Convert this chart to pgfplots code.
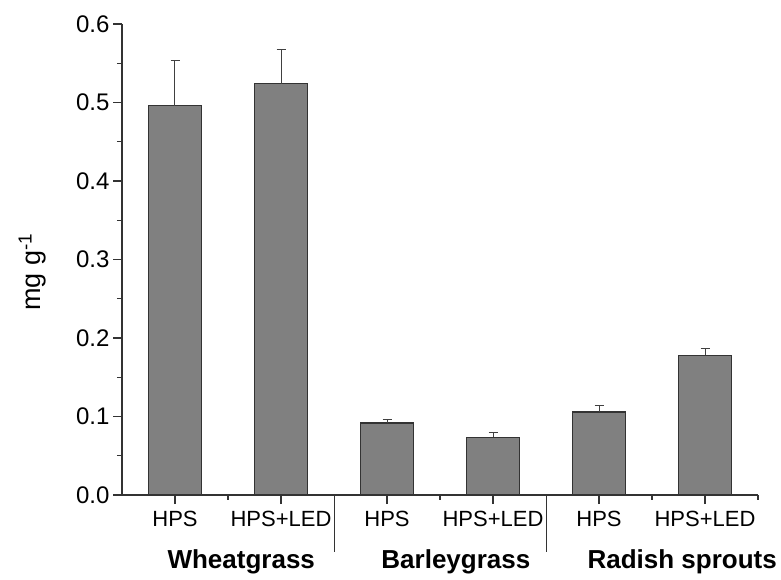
\documentclass[border=0pt]{standalone}
\usepackage{fontspec}
\setmainfont{Liberation Sans}
\usepackage{pgfplots}
\pgfplotsset{compat=1.18}
\begin{document}
\begin{tikzpicture}
\begin{axis}[
  scale only axis, width=636pt, height=471pt,
  xmin=0, xmax=12, ymin=0, ymax=0.6,
  axis x line*=bottom, axis y line*=left,
  axis line style={line width=1.2pt, black!80},
  tick align=outside,
  major tick length=9pt, minor tick length=5pt,
  every tick/.style={line width=1.2pt, black!80},
  xtick={1,3,5,7,9,11},
  xticklabels={HPS,HPS+LED,HPS,HPS+LED,HPS,HPS+LED},
  minor xtick={2,6,10,12},
  ytick={0,0.1,0.2,0.3,0.4,0.5,0.6},
  minor ytick={0.05,0.15,0.25,0.35,0.45,0.55},
  /pgf/number format/assume math mode=true,
  yticklabel style={/pgf/number format/fixed, /pgf/number format/fixed zerofill, /pgf/number format/precision=1, font=\fontsize{24}{24}\selectfont},
  xticklabel style={font=\fontsize{22}{22}\selectfont, yshift=-4pt},
  ylabel={mg g\textsuperscript{-1}},
  ylabel style={at={(axis description cs:-0.141,0.473)}, anchor=center, font=\fontsize{27}{27}\selectfont},
  clip=false,
]
\addplot[ybar, bar width=1, fill=black!50, draw=black!80, line width=1.4pt,
  error bars/.cd, y dir=plus, y explicit,
  error bar style={line width=1pt, black!75},
  error mark options={rotate=90, mark size=4.5pt, line width=1pt, black!75}]
  table[x=x, y=y, y error=e] {
x y e
1 0.496 0.057
3 0.524 0.044
5 0.0915 0.0045
7 0.0735 0.0055
9 0.1057 0.0077
11 0.178 0.008
};
\draw[line width=1pt, black!80] (axis cs:4,0) -- ++(0pt,-57pt);
\draw[line width=1pt, black!80] (axis cs:8,0) -- ++(0pt,-57pt);
\node[font=\bfseries\fontsize{26}{26}\selectfont, yshift=-67pt] at (axis cs:2.25,0) {Wheatgrass};
\node[font=\bfseries\fontsize{26}{26}\selectfont, yshift=-67pt] at (axis cs:6.3,0) {Barleygrass};
\node[font=\bfseries\fontsize{26}{26}\selectfont, yshift=-67pt] at (axis cs:10.57,0) {Radish sprouts};
\end{axis}
\path (current axis.south west) ++(-122pt,-85pt) rectangle ++(781pt,580pt);
\end{tikzpicture}
\end{document}
